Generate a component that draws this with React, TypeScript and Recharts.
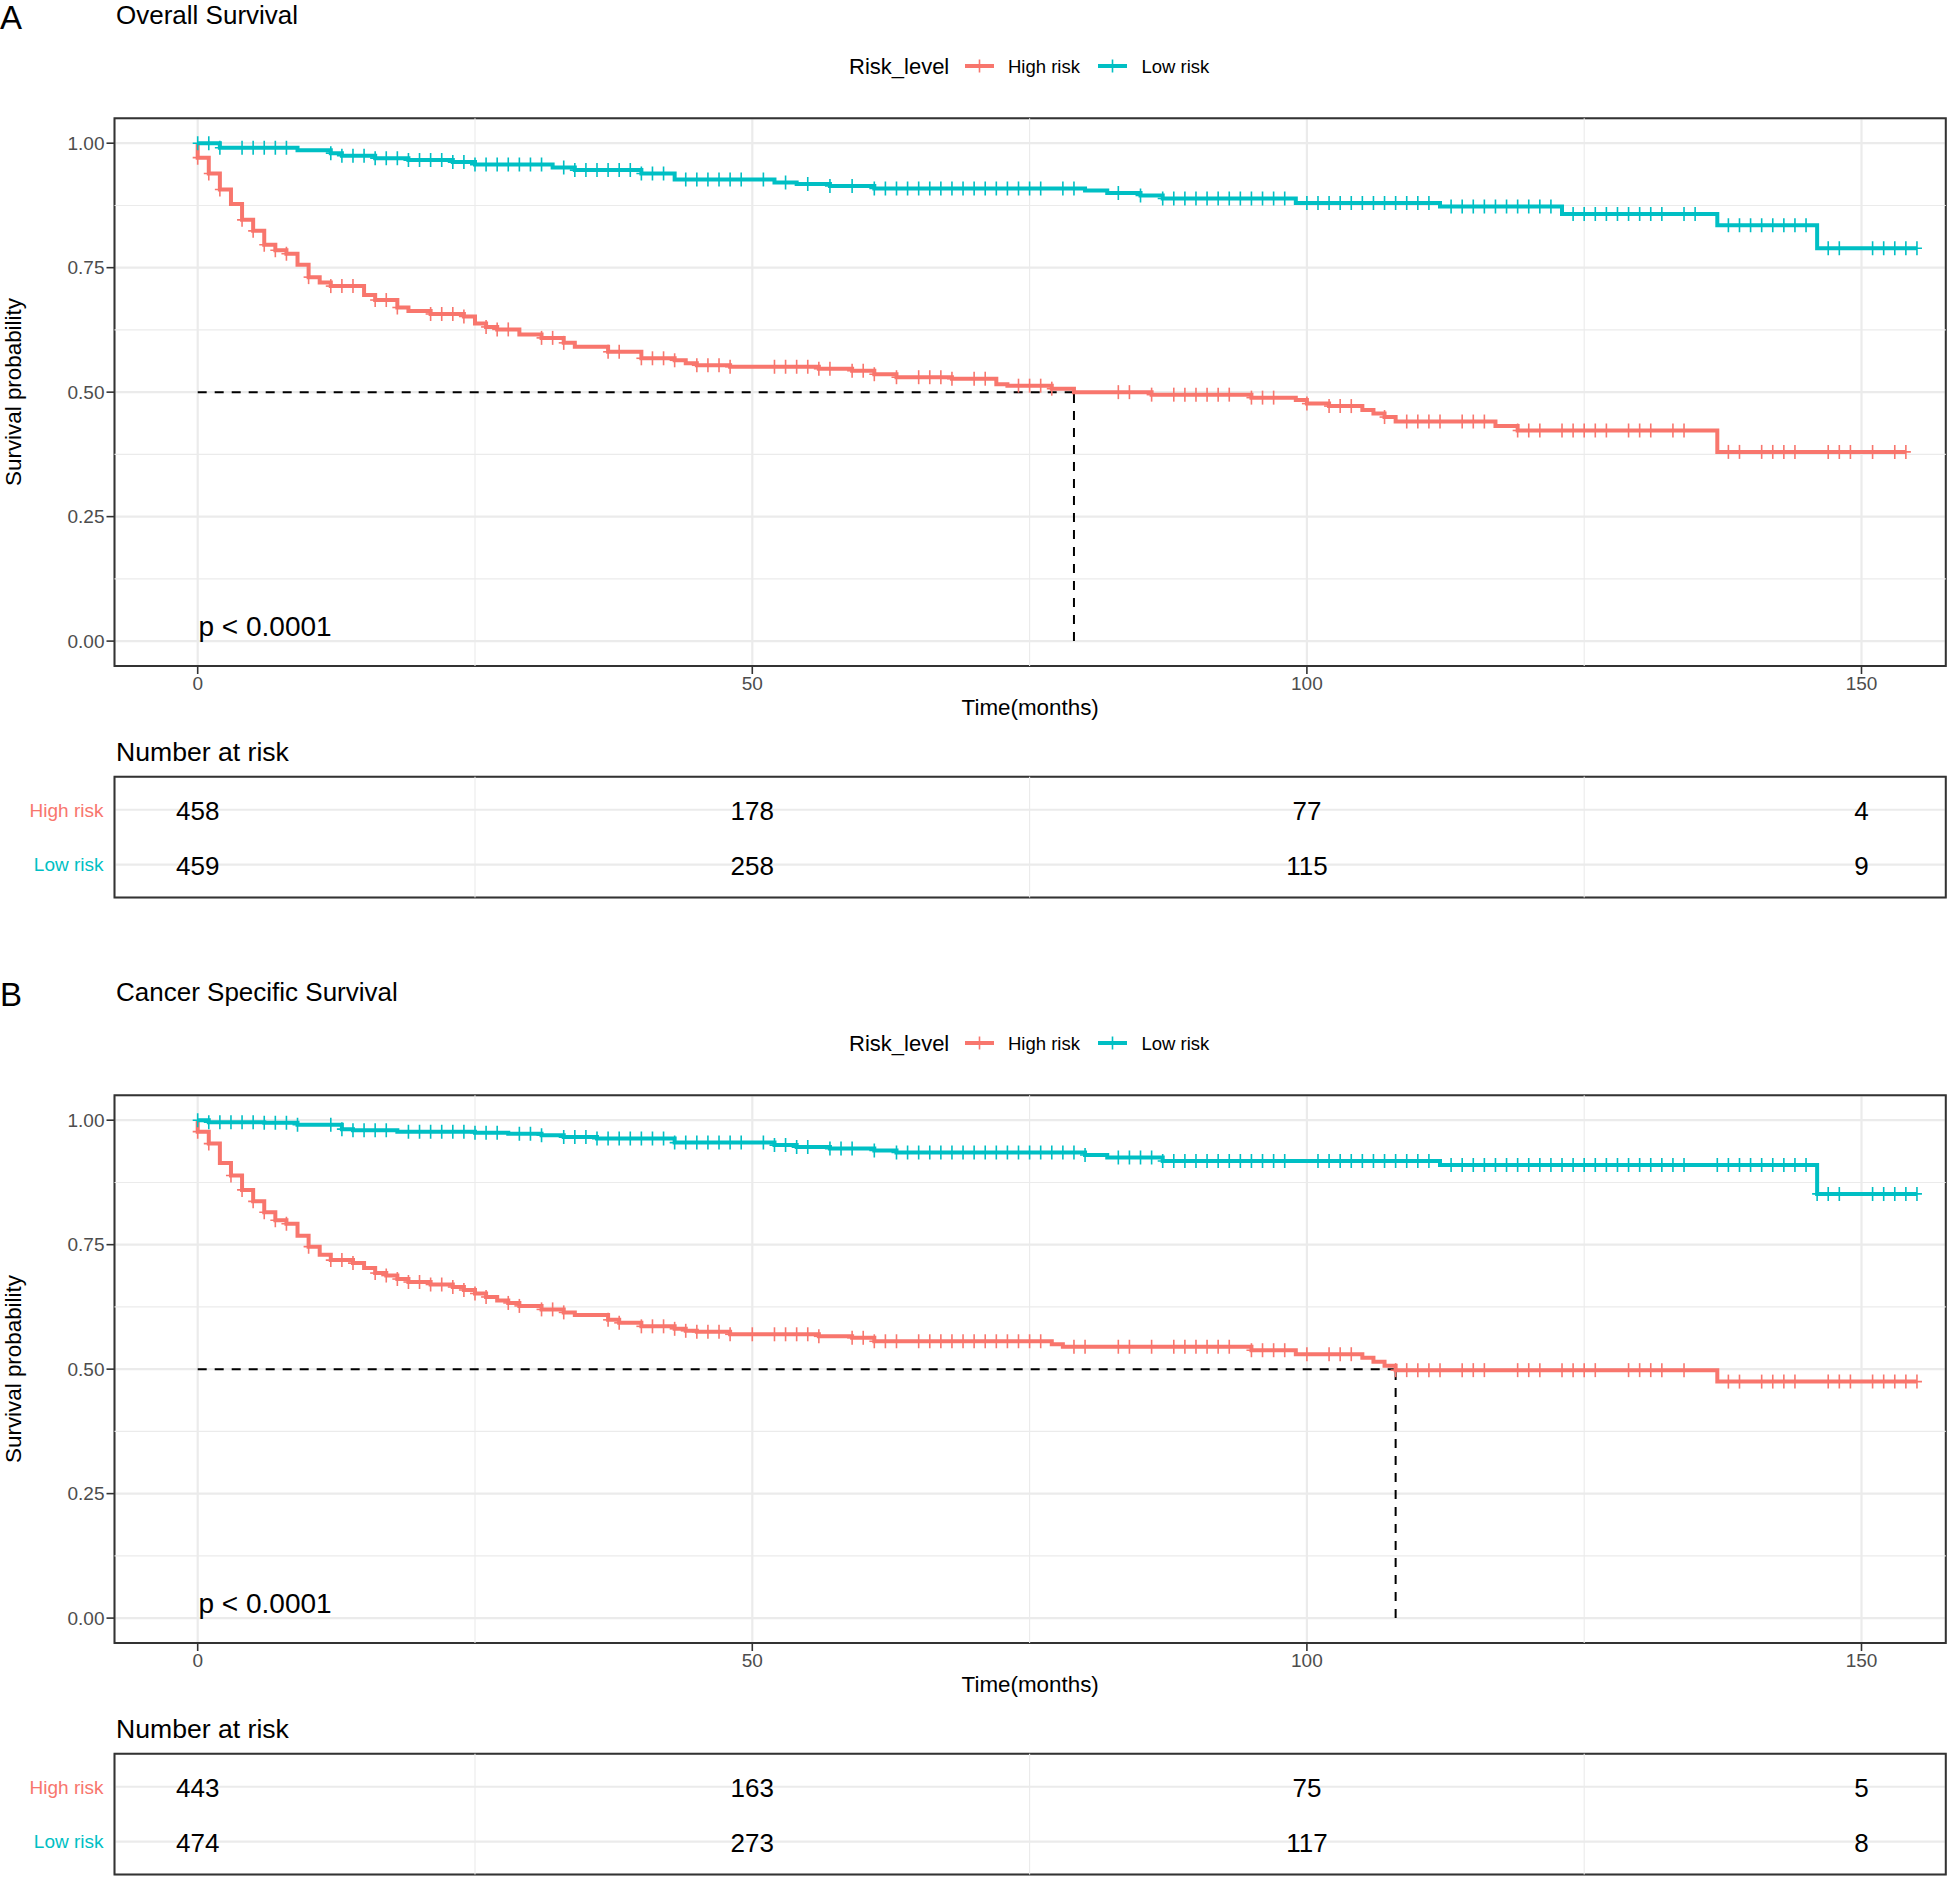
import React from "react";
import {
  ComposedChart,
  Line,
  Scatter,
  XAxis,
  YAxis,
  CartesianGrid,
  ReferenceLine,
  ReferenceArea,
} from "recharts";

const FONT = '"Liberation Sans", Arial, Helvetica, sans-serif';
const HIGH = "#F8766D";
const LOW = "#00BFC4";
const GRID = "#EBEBEB";
const AXIS_TEXT = "#4D4D4D";

const groups = ["High risk", "Low risk"];
const xTicks = [0, 50, 100, 150];
const xMinor = [25, 75, 125];
const yTicks = [0, 0.25, 0.5, 0.75, 1];
const yMinor = [0.125, 0.375, 0.625, 0.875];
const riskTimes = [0, 50, 100, 150];

const X_DOMAIN: [number, number] = [-7.5, 157.6];
const Y_DOMAIN: [number, number] = [-0.05, 1.05];

// Overall survival, high risk (step times / survival)
const osHighTimes = [0, 0, 1, 2, 3, 4, 5, 6, 7, 8, 9, 10, 11, 12, 15, 16, 18, 19, 21, 24, 25, 26, 27, 29, 31, 33, 34, 37, 40, 43, 44, 45, 48, 56, 59, 61, 63, 68, 72, 73, 77, 79, 86, 95, 99, 100, 102, 105, 106, 107, 108, 117, 119, 137, 154];
const osHighSurv = [1, 0.971, 0.939, 0.907, 0.878, 0.846, 0.824, 0.796, 0.785, 0.778, 0.756, 0.731, 0.72, 0.713, 0.695, 0.685, 0.67, 0.663, 0.657, 0.652, 0.638, 0.631, 0.626, 0.616, 0.609, 0.599, 0.591, 0.581, 0.568, 0.564, 0.558, 0.554, 0.551, 0.547, 0.543, 0.536, 0.53, 0.527, 0.516, 0.513, 0.507, 0.5, 0.495, 0.489, 0.484, 0.477, 0.472, 0.464, 0.457, 0.45, 0.441, 0.432, 0.423, 0.38, 0.38];
const osHighCens = [0, 1, 2, 4, 5, 6, 7, 8, 10, 12, 13, 14, 16, 17, 18, 21, 22, 23, 24, 26, 27, 28, 31, 32, 33, 37, 38, 40, 41, 42, 43, 45, 46, 47, 48, 52, 53, 54, 55, 56, 57, 59, 60, 61, 63, 65, 66, 67, 68, 70, 71, 74, 75, 76, 77, 83, 84, 86, 88, 89, 90, 91, 92, 93, 95, 96, 97, 100, 102, 103, 104, 107, 109, 110, 111, 112, 114, 115, 116, 119, 120, 121, 123, 124, 125, 126, 127, 129, 130, 131, 133, 134, 138, 139, 141, 142, 143, 144, 147, 148, 149, 151, 153, 154];

// Overall survival, low risk
const osLowTimes = [0, 2, 9, 12, 13, 16, 19, 23, 25, 32, 34, 40, 43, 52, 54, 57, 61, 80, 82, 85, 87, 99, 112, 123, 137, 146, 155];
const osLowSurv = [1, 0.991, 0.986, 0.98, 0.975, 0.97, 0.966, 0.962, 0.957, 0.951, 0.946, 0.939, 0.927, 0.921, 0.918, 0.914, 0.909, 0.905, 0.9, 0.895, 0.889, 0.88, 0.873, 0.858, 0.835, 0.789, 0.789];
const osLowCens = [0, 1, 2, 4, 5, 6, 7, 8, 12, 13, 14, 15, 16, 17, 18, 19, 20, 21, 22, 23, 24, 25, 26, 27, 28, 29, 30, 31, 33, 34, 35, 36, 37, 38, 39, 40, 41, 42, 44, 45, 46, 47, 48, 49, 51, 53, 55, 57, 59, 61, 62, 63, 64, 65, 66, 67, 68, 69, 70, 71, 72, 73, 74, 75, 76, 78, 79, 83, 85, 87, 88, 89, 90, 91, 92, 93, 94, 95, 96, 97, 98, 100, 101, 102, 103, 104, 105, 106, 107, 108, 109, 110, 111, 113, 114, 115, 116, 117, 118, 119, 120, 121, 122, 124, 125, 126, 127, 128, 129, 130, 131, 132, 134, 135, 138, 139, 140, 141, 142, 143, 144, 145, 147, 148, 151, 152, 153, 154, 155];

// Cancer specific survival, high risk
const cssHighTimes = [0, 0, 1, 2, 3, 4, 5, 6, 7, 8, 9, 10, 11, 12, 14, 15, 16, 17, 18, 19, 21, 23, 24, 25, 26, 27, 28, 29, 31, 33, 34, 37, 38, 40, 43, 44, 45, 48, 56, 59, 61, 77, 78, 95, 99, 105, 106, 107, 108, 137, 155];
const cssHighSurv = [1, 0.977, 0.953, 0.914, 0.889, 0.86, 0.837, 0.815, 0.799, 0.792, 0.768, 0.746, 0.73, 0.719, 0.713, 0.703, 0.693, 0.688, 0.681, 0.675, 0.67, 0.665, 0.659, 0.652, 0.645, 0.638, 0.633, 0.627, 0.62, 0.614, 0.609, 0.599, 0.593, 0.586, 0.581, 0.577, 0.575, 0.57, 0.566, 0.563, 0.556, 0.55, 0.545, 0.538, 0.53, 0.523, 0.515, 0.507, 0.498, 0.475, 0.475];
const cssHighCens = [0, 1, 3, 4, 5, 6, 7, 8, 10, 12, 13, 14, 16, 17, 18, 19, 20, 21, 22, 23, 24, 25, 26, 28, 29, 31, 32, 33, 37, 38, 40, 41, 42, 43, 44, 45, 46, 47, 48, 50, 52, 53, 54, 55, 56, 59, 60, 61, 62, 63, 65, 66, 67, 68, 69, 70, 71, 72, 73, 74, 75, 76, 79, 80, 83, 84, 86, 88, 89, 90, 91, 92, 93, 95, 96, 97, 98, 100, 102, 103, 104, 108, 109, 110, 111, 112, 114, 115, 116, 119, 120, 121, 123, 124, 125, 126, 129, 130, 131, 132, 134, 138, 139, 141, 142, 143, 144, 147, 148, 149, 151, 152, 153, 154, 155];

// Cancer specific survival, low risk
const cssLowTimes = [0, 1, 6, 9, 13, 14, 18, 25, 28, 31, 33, 36, 43, 52, 54, 57, 61, 63, 80, 82, 87, 112, 146, 155];
const cssLowSurv = [1, 0.996, 0.995, 0.991, 0.982, 0.98, 0.977, 0.975, 0.973, 0.97, 0.966, 0.963, 0.955, 0.95, 0.946, 0.943, 0.939, 0.935, 0.93, 0.925, 0.918, 0.91, 0.852, 0.852];
const cssLowCens = [0, 1, 2, 3, 4, 5, 6, 7, 8, 9, 12, 13, 14, 15, 16, 17, 19, 20, 21, 22, 23, 24, 25, 26, 27, 29, 30, 31, 33, 34, 35, 36, 37, 38, 39, 40, 41, 42, 43, 44, 45, 46, 47, 48, 49, 51, 52, 53, 54, 55, 57, 58, 59, 61, 63, 64, 65, 66, 67, 68, 69, 70, 71, 72, 73, 74, 75, 76, 77, 78, 79, 80, 83, 84, 85, 86, 87, 88, 89, 90, 91, 92, 93, 94, 95, 96, 97, 98, 101, 102, 103, 104, 105, 106, 107, 108, 109, 110, 111, 113, 114, 115, 116, 117, 118, 119, 120, 121, 122, 123, 124, 125, 126, 127, 128, 129, 130, 131, 132, 133, 134, 137, 138, 139, 140, 141, 142, 143, 144, 145, 146, 147, 148, 151, 152, 153, 154, 155];

// numbers at risk at 0, 50, 100, 150
const osHighRisk = [458, 178, 77, 4];
const osLowRisk = [459, 258, 115, 9];
const cssHighRisk = [443, 163, 75, 5];
const cssLowRisk = [474, 273, 117, 8];

const osMedian = 79;
const cssMedian = 108;

const toSteps = (times: number[], surv: number[]) =>
  times.map((t, i) => ({ t, s: surv[i] }));

// survival value of the step function at time t
const survAt = (times: number[], surv: number[], t: number) => {
  let v = surv[0];
  for (let i = 0; i < times.length; i++) {
    if (times[i] <= t) v = surv[i];
  }
  return v;
};

const toCensor = (times: number[], surv: number[], cens: number[]) =>
  cens.map((t) => ({ t, s: survAt(times, surv, t) }));

const censorMark = (color: string) => (props: any) => {
  const { cx, cy } = props;
  if (cx == null || cy == null) return <g />;
  return (
    <g>
      <line x1={cx} x2={cx} y1={cy - 7} y2={cy + 7} stroke={color} strokeWidth={1.6} />
      <line x1={cx - 5} x2={cx + 5} y1={cy} y2={cy} stroke={color} strokeWidth={1.6} />
    </g>
  );
};

const RiskNumber = (props: any) => {
  const { cx, cy, payload } = props;
  return (
    <text x={cx} y={cy} dy="0.4em" textAnchor="middle" fontSize={26} fill="#000">
      {payload.n}
    </text>
  );
};

const RowTick = (props: any) => {
  const { x, y, payload } = props;
  const isHigh = payload.value === 2;
  return (
    <text x={x} y={y} dy="0.36em" textAnchor="end" fontSize={19} fill={isHigh ? HIGH : LOW}>
      {isHigh ? groups[0] : groups[1]}
    </text>
  );
};

interface PanelProps {
  top: number;
  letter: string;
  title: string;
  high: { times: number[]; surv: number[]; cens: number[]; risk: number[] };
  low: { times: number[]; surv: number[]; cens: number[]; risk: number[] };
  median: number;
}

function SurvivalPanel({ top, letter, title, high, low, median }: PanelProps) {
  const highSteps = toSteps(high.times, high.surv);
  const lowSteps = toSteps(low.times, low.surv);
  const highCens = toCensor(high.times, high.surv, high.cens);
  const lowCens = toCensor(low.times, low.surv, low.cens);
  const riskRows = [
    ...riskTimes.map((t, i) => ({ t, row: 2, n: high.risk[i] })),
    ...riskTimes.map((t, i) => ({ t, row: 1, n: low.risk[i] })),
  ];
  const tickStyle = { fill: AXIS_TEXT, fontSize: 19 };

  return (
    <div style={{ position: "absolute", left: 0, top, width: 1952, height: 977 }}>
      <div style={{ position: "absolute", left: 0, top: 0 }}>
        <ComposedChart width={1952} height={720} margin={{ top: 118.3, right: 6.2, bottom: 14, left: 54.5 }}>
          <CartesianGrid stroke={GRID} strokeWidth={2.2} />
          {xMinor.map((v) => (
            <ReferenceLine key={"xm" + v} x={v} stroke={GRID} strokeWidth={1.1} />
          ))}
          {yMinor.map((v) => (
            <ReferenceLine key={"ym" + v} y={v} stroke={GRID} strokeWidth={1.1} />
          ))}
          <XAxis
            type="number"
            dataKey="t"
            domain={X_DOMAIN}
            allowDataOverflow
            ticks={xTicks}
            interval={0}
            tick={tickStyle}
            tickSize={8}
            tickMargin={3}
            axisLine={false}
            tickLine={{ stroke: "#333", strokeWidth: 1.6 }}
            height={40}
          />
          <YAxis
            type="number"
            dataKey="s"
            domain={Y_DOMAIN}
            allowDataOverflow
            ticks={yTicks}
            interval={0}
            tickFormatter={(v: number) => v.toFixed(2)}
            tick={tickStyle}
            tickSize={8}
            tickMargin={2}
            axisLine={false}
            tickLine={{ stroke: "#333", strokeWidth: 1.6 }}
            width={60}
          />
          <ReferenceLine
            segment={[{ x: 0, y: 0.5 }, { x: median, y: 0.5 }]}
            stroke="#000"
            strokeWidth={2}
            strokeDasharray="9 8"
          />
          <ReferenceLine
            segment={[{ x: median, y: 0 }, { x: median, y: 0.5 }]}
            stroke="#000"
            strokeWidth={2}
            strokeDasharray="9 8"
          />
          <Line data={highSteps} dataKey="s" type="stepAfter" stroke={HIGH} strokeWidth={4} dot={false} activeDot={false} isAnimationActive={false} />
          <Scatter data={highCens} dataKey="s" shape={censorMark(HIGH)} isAnimationActive={false} />
          <Line data={lowSteps} dataKey="s" type="stepAfter" stroke={LOW} strokeWidth={4} dot={false} activeDot={false} isAnimationActive={false} />
          <Scatter data={lowCens} dataKey="s" shape={censorMark(LOW)} isAnimationActive={false} />
          <ReferenceArea x1={X_DOMAIN[0]} x2={X_DOMAIN[1]} y1={Y_DOMAIN[0]} y2={Y_DOMAIN[1]} fill="none" fillOpacity={0} stroke="#333" strokeWidth={2} />
        </ComposedChart>
      </div>

      <div style={{ position: "absolute", left: 0, top: 760 }}>
        <ComposedChart width={1952} height={140} margin={{ top: 16.8, right: 6.2, bottom: 2.4, left: 14.5 }}>
          <CartesianGrid stroke={GRID} strokeWidth={2.2} />
          {xMinor.map((v) => (
            <ReferenceLine key={"rxm" + v} x={v} stroke={GRID} strokeWidth={1.1} />
          ))}
          <XAxis
            type="number"
            dataKey="t"
            domain={X_DOMAIN}
            allowDataOverflow
            ticks={xTicks}
            interval={0}
            tick={false}
            axisLine={false}
            tickLine={false}
            height={0}
          />
          <YAxis
            type="number"
            dataKey="row"
            domain={[0.4, 2.6]}
            allowDataOverflow
            ticks={[1, 2]}
            interval={0}
            tick={<RowTick />}
            tickSize={0}
            tickMargin={11}
            axisLine={false}
            tickLine={false}
            width={100}
          />
          <Scatter data={riskRows} dataKey="row" shape={RiskNumber} isAnimationActive={false} />
          <ReferenceArea x1={X_DOMAIN[0]} x2={X_DOMAIN[1]} y1={0.4} y2={2.6} fill="none" fillOpacity={0} stroke="#333" strokeWidth={2} />
        </ComposedChart>
      </div>

      <svg width={1952} height={977} style={{ position: "absolute", left: 0, top: 0, pointerEvents: "none" }}>
        <text x={0} y={29} fontSize={33} fill="#000">{letter}</text>
        <text x={116} y={24} fontSize={26} fill="#000">{title}</text>

        <text x={849} y={74} fontSize={22} fill="#000">Risk_level</text>
        <line x1={965} x2={994} y1={66} y2={66} stroke={HIGH} strokeWidth={4} />
        <line x1={979.5} x2={979.5} y1={59.5} y2={72.5} stroke={HIGH} strokeWidth={1.6} />
        <text x={1008} y={72.6} fontSize={18.5} fill="#000">{groups[0]}</text>
        <line x1={1098} x2={1127} y1={66} y2={66} stroke={LOW} strokeWidth={4} />
        <line x1={1112.5} x2={1112.5} y1={59.5} y2={72.5} stroke={LOW} strokeWidth={1.6} />
        <text x={1141.5} y={72.6} fontSize={18.5} fill="#000">{groups[1]}</text>

        <text x={21} y={392} fontSize={22.4} fill="#000" textAnchor="middle" transform="rotate(-90 21 392)">
          Survival probability
        </text>
        <text x={1030.2} y={715} fontSize={22.4} fill="#000" textAnchor="middle">Time(months)</text>
        <text x={198.5} y={636} fontSize={28} fill="#000">p &lt; 0.0001</text>
        <text x={116} y={761} fontSize={26.6} fill="#000">Number at risk</text>
      </svg>
    </div>
  );
}

export default function App() {
  return (
    <div
      style={{
        position: "absolute",
        left: 0,
        top: 0,
        width: 1952,
        height: 1877,
        background: "#fff",
        overflow: "hidden",
        fontFamily: FONT,
      }}
    >
      <SurvivalPanel
        top={0}
        letter="A"
        title="Overall Survival"
        high={{ times: osHighTimes, surv: osHighSurv, cens: osHighCens, risk: osHighRisk }}
        low={{ times: osLowTimes, surv: osLowSurv, cens: osLowCens, risk: osLowRisk }}
        median={osMedian}
      />
      <SurvivalPanel
        top={977.3}
        letter="B"
        title="Cancer Specific Survival"
        high={{ times: cssHighTimes, surv: cssHighSurv, cens: cssHighCens, risk: cssHighRisk }}
        low={{ times: cssLowTimes, surv: cssLowSurv, cens: cssLowCens, risk: cssLowRisk }}
        median={cssMedian}
      />
    </div>
  );
}
